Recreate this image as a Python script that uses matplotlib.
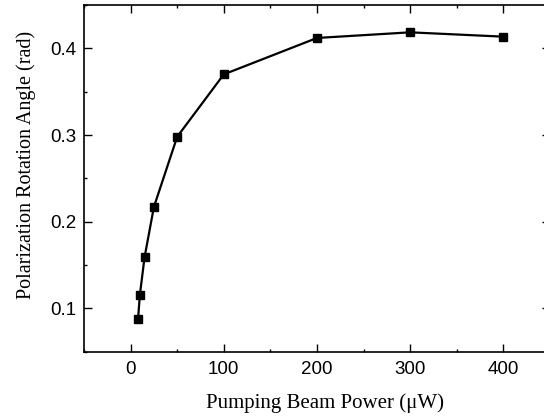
import matplotlib
matplotlib.use("Agg")
import matplotlib.pyplot as plt
from matplotlib.ticker import MultipleLocator

# pumping power (uW) and rotation angle (rad)
power = [8, 10, 15, 25, 50, 100, 200, 300, 400]
angle = [0.088, 0.116, 0.159, 0.217, 0.298, 0.370, 0.412, 0.4185, 0.4135]

x_ticks = [0, 100, 200, 300, 400]
y_ticks = [0.1, 0.2, 0.3, 0.4]

fig = plt.figure(figsize=(5.44, 4.19), dpi=100)
# right spine sits just past the picture edge, as in the original
ax = fig.add_axes([0.1544, 0.1606, 0.8566, 0.8274])

ax.plot(power, angle, color="black", lw=1.6, marker="s", ms=5.5,
        markerfacecolor="black", markeredgecolor="black")

ax.set_xlim(-50, 450)
ax.set_ylim(0.05, 0.45)
ax.set_xticks(x_ticks)
ax.set_yticks(y_ticks)
ax.set_xticklabels([str(v) for v in x_ticks])
ax.set_yticklabels(["%.1f" % v for v in y_ticks])
ax.xaxis.set_minor_locator(MultipleLocator(50))
ax.yaxis.set_minor_locator(MultipleLocator(0.05))

ax.tick_params(which="both", direction="in", top=True, right=True, width=1.0)
ax.tick_params(which="major", length=5.5, labelsize=13.5)
ax.tick_params(axis="x", which="major", pad=7)
ax.tick_params(axis="y", which="major", pad=5.5)
ax.tick_params(which="minor", length=2.5)
for lab in ax.get_xticklabels() + ax.get_yticklabels():
    lab.set_fontfamily("Liberation Sans")
for sp in ax.spines.values():
    sp.set_linewidth(1.2)

ax.set_xlabel("Pumping Beam Power (μW)", fontfamily="Liberation Serif",
              fontsize=15, labelpad=11)
ax.set_ylabel("Polarization Rotation Angle (rad)", fontfamily="Liberation Serif",
              fontsize=14.5, labelpad=10)
# labels sit a bit off-centre in the original
ax.xaxis.label.set_x(0.517)
ax.yaxis.label.set_y(0.540)

fig.savefig("out.png", dpi=100)
